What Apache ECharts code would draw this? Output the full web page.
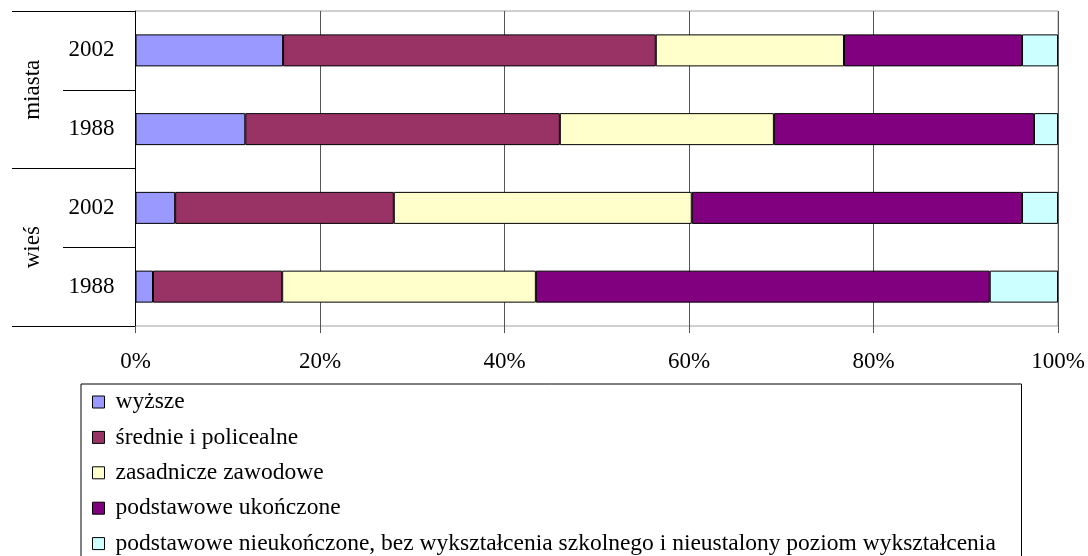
<!DOCTYPE html>
<html>
<head>
<meta charset="utf-8">
<script src="https://cdn.jsdelivr.net/npm/echarts@6/dist/echarts.min.js"></script>
<style>
html,body{margin:0;padding:0;background:#fff;}
#chart{width:1088px;height:556px;}
</style>
</head>
<body>
<div id="chart"></div>
<script>
// Categories, bottom to top (ECharts category axis starts at the bottom)
const years = ['1988', '2002', '1988', '2002'];
const groups = ['wieś', 'miasta'];
const tickLabels = ['0%', '20%', '40%', '60%', '80%', '100%'];

const seriesNames = [
  'wyższe',
  'średnie i policealne',
  'zasadnicze zawodowe',
  'podstawowe ukończone',
  'podstawowe nieukończone, bez wykształcenia szkolnego i nieustalony poziom wykształcenia'
];
// values (%) per row: wieś 1988, wieś 2002, miasta 1988, miasta 2002
const wyzsze       = [1.9, 4.3, 11.9, 16.0];
const srednie      = [14.0, 23.7, 34.1, 40.4];
const zasadnicze   = [27.5, 32.3, 23.2, 20.4];
const podstawowe   = [49.2, 35.8, 28.2, 19.3];
const nieukonczone = [7.4, 3.9, 2.6, 3.9];

const colors = ['#9999FF', '#993366', '#FFFFCC', '#800080', '#CCFFFF'];
const values = [wyzsze, srednie, zasadnicze, podstawowe, nieukonczone];

const FONT = "'Liberation Serif', 'Times New Roman', serif";

const chart = echarts.init(document.getElementById('chart'), null, {renderer: 'canvas'});
chart.setOption({
  backgroundColor: '#fff',
  animation: false,
  textStyle: {fontFamily: FONT},
  grid: {
    left: 135.5, right: 30, top: 11, height: 315,
    show: true, borderColor: '#a0a0a0', borderWidth: 1,
    containLabel: false
  },
  legend: {
    orient: 'vertical',
    left: 81, top: 384, height: 300,
    padding: [6, 3, 8, 11],
    itemGap: 11.4,
    itemWidth: 12, itemHeight: 12,
    icon: 'rect',
    borderColor: '#000', borderWidth: 1,
    itemStyle: {borderColor: '#000', borderWidth: 1},
    textStyle: {
      fontFamily: FONT, fontSize: 23.5, color: '#000', lineHeight: 23.5,
      width: 903, padding: [0, 0, 0, 6]
    },
    data: seriesNames
  },
  xAxis: {
    type: 'value', min: 0, max: 100, interval: 20,
    axisLine: {show: false},
    axisTick: {show: true, length: 7, lineStyle: {color: '#555'}},
    splitLine: {show: true, lineStyle: {color: '#555', width: 1}},
    axisLabel: {
      margin: 24, fontFamily: FONT, fontSize: 23, color: '#000',
      formatter: function (v) { return tickLabels[Math.round(v / 20)]; }
    }
  },
  yAxis: [
    {
      type: 'category', data: years, position: 'left',
      axisLine: {show: true, lineStyle: {color: '#000', width: 1}},
      axisTick: {show: true, length: 72.5, lineStyle: {color: '#000'}},
      axisLabel: {margin: 21, fontFamily: FONT, fontSize: 23, color: '#000'},
      splitLine: {show: false}
    },
    {
      type: 'category', data: groups, position: 'left', offset: 0,
      axisLine: {show: false},
      axisTick: {show: true, length: 123.5, lineStyle: {color: '#000'}},
      axisLabel: {margin: 91, rotate: 90, fontFamily: FONT, fontSize: 23, color: '#000'},
      splitLine: {show: false}
    }
  ],
  series: seriesNames.map(function (name, i) {
    return {
      name: name, type: 'bar', stack: 'total', yAxisIndex: 0,
      barWidth: 32,
      itemStyle: {color: colors[i], borderColor: '#000', borderWidth: 1},
      data: values[i]
    };
  })
});
</script>
</body>
</html>
